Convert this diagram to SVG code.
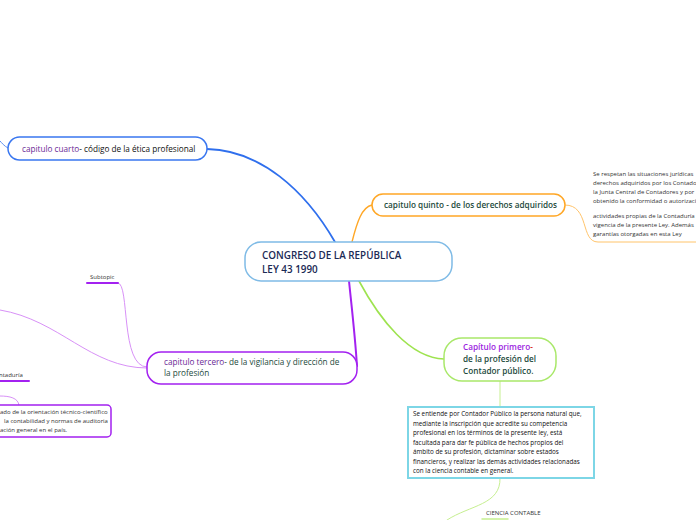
<svg xmlns="http://www.w3.org/2000/svg" width="696" height="520" viewBox="0 0 696 520">
<style>
text{font-family:"Open Sans","Noto Sans","Liberation Sans",sans-serif;}
.node{fill:#fff;stroke-width:1.5;}
.t{font-size:8.2px;}
.s{font-size:6px;fill:#333;}
.b{font-size:6.3px;fill:#111;}
.c{fill:none;stroke-linecap:round;}
</style>
<rect width="696" height="520" fill="#fff"/>
<g id="connectors">
  <path class="c" d="M207,149 C260,150 305,190 335,242" stroke="#2f6fed" stroke-width="1.8"/>
  <path class="c" d="M8,148 C4,146 2,143 0,141" stroke="#5b8ff0" stroke-width="1"/>
  <path class="c" d="M352,242 C357,222 362,207 372,205" stroke="#ffa726" stroke-width="1.4"/>
  <path class="c" d="M565,205 C590,205 580,242 598,242 L696,242" stroke="#ffc46b" stroke-width="1"/>
  <path class="c" d="M349,281 C352,310 355,335 357,366" stroke="#a321f0" stroke-width="2"/>
  <path class="c" d="M359,281 C380,320 410,358 444,359" stroke="#9ee34f" stroke-width="1.6"/>
  <path class="c" d="M147,367 C120,367 130,283 118,283" stroke="#d891f7" stroke-width="1"/>
  <path class="c" d="M147,368 C90,368 60,320 0,310" stroke="#d891f7" stroke-width="1"/>
  <path class="c" d="M87,283 L118,283" stroke="#a321f0" stroke-width="2"/>
  <path class="c" d="M0,381 L29,381" stroke="#a321f0" stroke-width="2"/>
  <path class="c" d="M0,396 C10,396 18,398 19,405" stroke="#d891f7" stroke-width="1"/>
  <path class="c" d="M500,381 L500,407" stroke="#c6ef90" stroke-width="1"/>
  <path class="c" d="M500,478 C501,505 470,505 447,520" stroke="#c6ef90" stroke-width="1"/>
  <path class="c" d="M482,519 L508,519" stroke="#c6ef90" stroke-width="1.5"/>
</g>
<g id="central">
  <rect class="node" x="245" y="242" width="207" height="39" rx="16" stroke="#7fbbe6" stroke-width="1.8"/>
  <text x="262" y="259" font-size="9.9" font-weight="600" fill="#1b2a55">CONGRESO DE LA REPÚBLICA</text>
  <text x="262" y="273" font-size="9.9" font-weight="600" fill="#1b2a55">LEY 43 1990</text>
</g>
<g id="cuarto">
  <rect class="node" x="8" y="137" width="199" height="23" rx="11.5" stroke="#3a77f0"/>
  <text class="t" x="22" y="151.5"><tspan fill="#6a2a96">capitulo cuarto</tspan><tspan fill="#111">- código de la ética profesional</tspan></text>
</g>
<g id="quinto">
  <rect class="node" x="372" y="194" width="193" height="22" rx="11" stroke="#ffa726"/>
  <text class="t" x="384" y="208" font-weight="600" fill="#1d4a3c">capitulo quinto - de los derechos adquiridos</text>
</g>
<g id="quinto-note">
  <text class="s" x="593" y="176">Se respetan las situaciones jurídicas</text>
  <text class="s" x="593" y="185">derechos adquiridos por los Contado</text>
  <text class="s" x="593" y="194">la Junta Central de Contadores y por</text>
  <text class="s" x="593" y="203">obtenido la conformidad o autorizaci</text>
  <text class="s" x="593" y="218">actividades propias de la Contaduría</text>
  <text class="s" x="593" y="227">vigencia de la presente Ley. Además</text>
  <text class="s" x="593" y="236">garantías otorgadas en esta Ley</text>
</g>
<g id="tercero">
  <rect class="node" x="147" y="352" width="210" height="32" rx="14" stroke="#a321f0"/>
  <text class="t" x="164" y="365"><tspan fill="#6a2a96">capitulo tercero</tspan><tspan fill="#1d4a3c">- de la vigilancia y dirección de</tspan></text>
  <text class="t" x="164" y="376" fill="#1d4a3c">la profesión</text>
</g>
<g id="subtopic">
  <text class="s" x="90" y="279">Subtopic</text>
</g>
<g id="contaduria">
  <text class="s" x="-1" y="377">ntaduría</text>
</g>
<g id="tercero-note">
  <rect x="-20" y="405" width="131" height="32" rx="4" fill="#fff" stroke="#a321f0" stroke-width="1.5"/>
  <text class="s" x="0" y="414">ado de la orientación técnico-científico</text>
  <text class="s" x="4" y="423">la contabilidad y normas de auditoria</text>
  <text class="s" x="0" y="432">ación general en el país.</text>
</g>
<g id="primero">
  <rect class="node" x="444" y="338" width="112" height="43" rx="18" stroke="#a9e86a"/>
  <text class="t" x="463" y="350" font-weight="600"><tspan fill="#9b22e0">Capítulo primero</tspan><tspan fill="#e02020">-</tspan></text>
  <text class="t" x="463" y="362" font-weight="600" fill="#1d4a3c">de la profesión del</text>
  <text class="t" x="463" y="374" font-weight="600" fill="#1d4a3c">Contador público.</text>
</g>
<g id="primero-note">
  <rect x="408" y="407" width="186" height="71" fill="#fff" stroke="#7dd6e6" stroke-width="2"/>
  <text class="b" x="413" y="416">Se entiende por Contador Público la persona natural que,</text>
  <text class="b" x="413" y="425.5">mediante la inscripción que acredite su competencia</text>
  <text class="b" x="413" y="435">profesional en los términos de la presente ley, está</text>
  <text class="b" x="413" y="444.5">facultada para dar  fe pública de hechos propios del</text>
  <text class="b" x="413" y="454">ámbito de su profesión, dictaminar  sobre estados</text>
  <text class="b" x="413" y="463.5">financieros, y  realizar  las demás actividades relacionadas</text>
  <text class="b" x="413" y="473">con la ciencia contable en general.</text>
</g>
<g id="ciencia">
  <text class="s" x="486" y="515" font-size="5.5">CIENCIA CONTABLE</text>
</g>
</svg>
